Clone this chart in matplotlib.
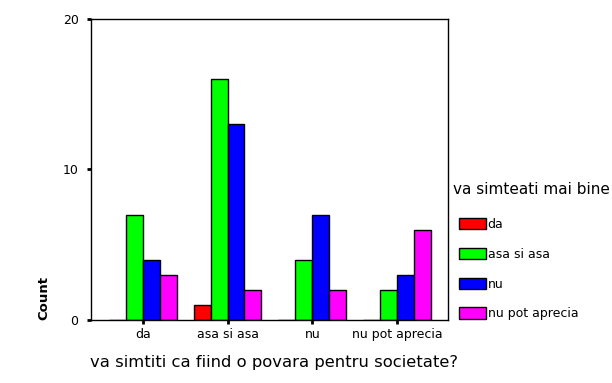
import numpy as np
import matplotlib.pyplot as plt
from matplotlib.patches import Patch

plt.rcParams['font.family'] = ['DejaVu Sans']

categories = ['da', 'asa si asa', 'nu', 'nu pot aprecia']
series_names = ['da', 'asa si asa', 'nu', 'nu pot aprecia']
values = {
    'da': [0, 1, 0, 0],
    'asa si asa': [7, 16, 4, 2],
    'nu': [4, 13, 7, 3],
    'nu pot aprecia': [3, 2, 2, 6],
}
colors = ['#ff0000', '#00ff00', '#0000ff', '#ff00ff']

fig = plt.figure(figsize=(6.12, 3.83), dpi=100)
ax = fig.add_axes([91/612, 1 - 320/383, 357/612, 301/383])

x = np.arange(len(categories))
w = 0.2
for i, name in enumerate(series_names):
    ax.bar(x + (i - 1.5) * w, values[name], width=w, color=colors[i],
           edgecolor='black', linewidth=1)

ax.set_xlim(-0.61, 3.6)
ax.set_ylim(0, 20)
ax.set_yticks([0, 10, 20])
ax.set_xticks(x)
ax.set_xticklabels(categories, fontsize=9)
ax.tick_params(axis='y', labelsize=9, direction='out', length=3, width=2, pad=6)
ax.tick_params(axis='x', direction='out', length=3, width=2, pad=3)
for s in ax.spines.values():
    s.set_linewidth(1)

fig.text(90/612, 1 - 362/383, 'va simtiti ca fiind o povara pentru societate?',
         fontsize=11.8, ha='left', va='center')
fig.text(44/612, 1 - 320/383, 'Count', rotation=90, fontsize=9.5,
         fontweight='bold', ha='center', va='bottom')

# legend title drawn separately so it sits a bit left of the patches
fig.text(453/612, 1 - 190/383, 'va simteati mai bine', fontsize=11,
         ha='left', va='center')
handles = [Patch(facecolor=c, edgecolor='black', linewidth=1) for c in colors]
leg = fig.legend(handles, series_names, loc='upper left',
                 bbox_to_anchor=(450/612, 1 - 209/383), frameon=False,
                 fontsize=9, handlelength=2.16, handleheight=1.04,
                 labelspacing=1.35, handletextpad=0.15, borderpad=0.2)

fig.savefig('out.png', dpi=100)
